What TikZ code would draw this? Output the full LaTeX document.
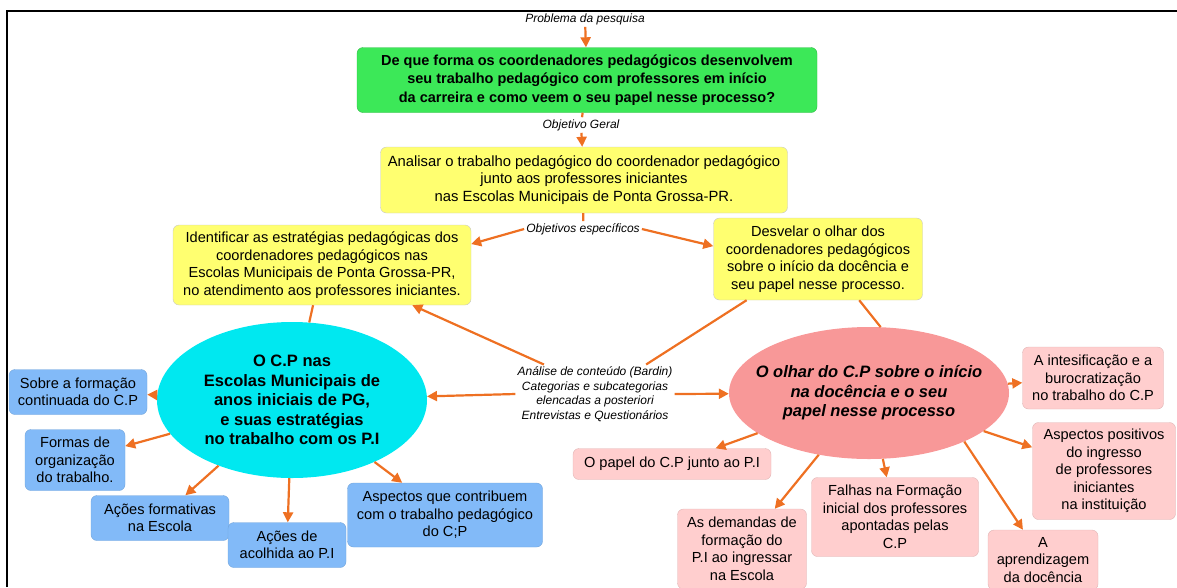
\documentclass[tikz,border=0pt]{standalone}
\usepackage{fontspec}
\setmainfont{Liberation Sans}
\usetikzlibrary{shapes.geometric,arrows.meta}

\definecolor{laranja}{RGB}{238,112,34}
\definecolor{verde}{RGB}{60,232,88}
\definecolor{amarelo}{RGB}{255,255,112}
\definecolor{ciano}{RGB}{0,232,240}
\definecolor{azul}{RGB}{130,186,248}
\definecolor{salmao}{RGB}{248,152,152}
\definecolor{rosa}{RGB}{255,206,206}

\begin{document}
\begin{tikzpicture}[x=1pt,y=-1pt,
    caixa/.style={rectangle,rounded corners=6pt,align=center,inner sep=2pt,
      font=\fontsize{14.6}{17.5}\selectfont},
    amar/.style={caixa,fill=amarelo,draw=black!22},
    azu/.style={caixa,fill=azul,draw=azul!88!black},
    ros/.style={caixa,fill=rosa,draw=rosa!88!black},
    rotulo/.style={font=\fontsize{12}{14.5}\selectfont\itshape,align=center,inner sep=2pt},
    seta/.style={draw=laranja,line width=2.2pt,-{Triangle[length=10pt,width=10pt]}},
    linha/.style={draw=laranja,line width=2.2pt}]

  \useasboundingbox (0,0) rectangle (1177,587);
  \draw[line width=2pt] (7,587) -- (7,11) -- (1177,11); % moldura

  % problema e objetivos
  \node[rotulo] (prob) at (585,19) {Problema da pesquisa};
  \node[caixa,fill=verde,draw=verde!80!black,minimum width=460pt,minimum height=65pt,
    font=\fontsize{14.5}{18.5}\selectfont\bfseries] (quest) at (587,80)
    {De que forma os coordenadores pedagógicos desenvolvem\\
     seu trabalho pedagógico com professores em início\\
     da carreira e como veem o seu papel nesse processo?};
  \node[rotulo] (og) at (581,125) {Objetivo Geral};
  \node[amar,minimum width=407pt,minimum height=66pt,
    font=\fontsize{14.8}{17.8}\selectfont] (geral) at (584,180)
    {Analisar o trabalho pedagógico do coordenador pedagógico\\
     junto aos professores iniciantes\\
     nas Escolas Municipais de Ponta Grossa-PR.};
  \node[rotulo] (oe) at (583,229) {Objetivos específicos};
  \node[amar,minimum width=298pt,minimum height=80pt] (esp1) at (322,265)
    {Identificar as estratégias pedagógicas dos\\
     coordenadores pedagógicos nas\\
     Escolas Municipais de Ponta Grossa-PR,\\
     no atendimento aos professores iniciantes.};
  \node[amar,minimum width=209pt,minimum height=82pt] (esp2) at (818,259)
    {Desvelar o olhar dos\\
     coordenadores pedagógicos\\
     sobre o início da docência e\\
     seu papel nesse processo.};

  \draw[seta] (prob) -- (quest);
  \draw[linha] (quest) -- (og);
  \draw[seta] (og) -- (geral);
  \draw[linha] (geral) -- (oe);
  \draw[seta] (oe.west) -- (esp1.8);
  \draw[seta] (oe.east) -- (esp2.173);

  % categorias
  \node[ellipse,fill=ciano,minimum width=270pt,minimum height=156pt,inner sep=0pt,
    inner xsep=-30pt,align=center,
    font=\fontsize{16.5}{19.5}\selectfont\bfseries] (cp) at (292,400)
    {O C.P nas\\ Escolas Municipais de\\ anos iniciais de PG,\\ e suas estratégias\\ no trabalho com os P.I};
  \node[ellipse,fill=salmao,minimum width=280pt,minimum height=132pt,inner sep=0pt,
    inner xsep=-45pt,align=center,
    font=\fontsize{16.5}{19.5}\selectfont\bfseries\itshape] (olhar) at (869,393)
    {O olhar do C.P sobre o início\\ na docência e o seu\\ papel nesse processo};
  \node[rotulo] (ana) at (595,394)
    {Análise de conteúdo (Bardin)\\ Categorias e subcategorias\\ elencadas a posteriori\\ Entrevistas e Questionários};

  \draw[linha] (esp1) -- (cp);
  \draw[linha] (esp2.-45) -- (olhar.80);
  \draw[linha] (esp2.-150) -- (ana.30);
  \draw[seta] (ana.150) -- (esp1.-24);
  \draw[seta] (ana.west) -- (cp);
  \draw[seta] (ana.east) -- (olhar);

  % subcategorias C.P
  \node[azu,minimum width=138pt,minimum height=45pt] (sobre) at (78,392) {Sobre a formação\\ continuada do C.P};
  \node[azu,minimum width=100pt,minimum height=61pt] (formas) at (75,460) {Formas de\\ organização\\ do trabalho.};
  \node[azu,minimum width=138pt,minimum height=45pt] (formativas) at (160,518) {Ações formativas\\ na Escola};
  \node[azu,minimum width=118pt,minimum height=45pt] (acolhida) at (287,545) {Ações de\\ acolhida ao P.I};
  \node[azu,minimum width=195pt,minimum height=64pt] (contrib) at (445,515)
    {Aspectos que contribuem\\ com o trabalho pedagógico\\ do C;P};

  \foreach \n in {sobre,formas,formativas,acolhida,contrib}
    \draw[seta] (cp) -- (\n);

  % subcategorias olhar
  \node[ros,minimum width=141pt,minimum height=62pt] (intens) at (1093,378)
    {A intesificação e a\\ burocratização\\ no trabalho do C.P};
  \node[ros,minimum width=143pt,minimum height=97pt] (positivos) at (1104,471)
    {Aspectos positivos\\ do ingresso\\ de professores\\ iniciantes\\ na instituição};
  \node[ros,minimum width=198pt,minimum height=31pt] (papel) at (672,464) {O papel do C.P junto ao P.I};
  \node[ros,minimum width=129pt,minimum height=80pt] (demandas) at (742,549)
    {As demandas de\\ formação do\\ P.I ao ingressar\\ na Escola};
  \node[ros,minimum width=167pt,minimum height=79pt] (falhas) at (895,517)
    {Falhas na Formação\\ inicial dos professores\\ apontadas pelas\\ C.P};
  \node[ros,minimum width=110pt,minimum height=60pt] (aprend) at (1043,560)
    {A\\ aprendizagem\\ da docência};

  \foreach \n in {intens,positivos,papel,demandas,falhas}
    \draw[seta] (olhar) -- (\n);
  \draw[seta] (olhar.-27) -- (aprend);

\end{tikzpicture}
\end{document}
